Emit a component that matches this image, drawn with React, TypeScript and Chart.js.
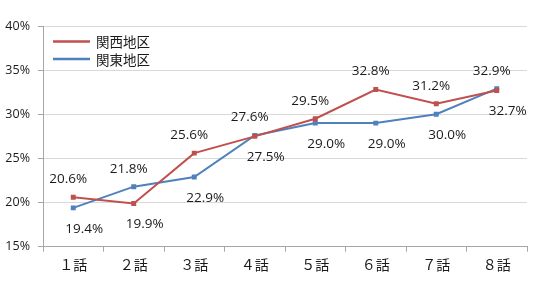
import React, { useEffect, useRef } from "react";
import { Chart, registerables } from "chart.js";

Chart.register(...registerables);

const categories = ["１話", "２話", "３話", "４話", "５話", "６話", "７話", "８話"];
const kansaiLabel = "関西地区";
const kantoLabel = "関東地区";
const kansai = [20.6, 19.9, 25.6, 27.5, 29.5, 32.8, 31.2, 32.7];
const kanto = [19.4, 21.8, 22.9, 27.6, 29.0, 29.0, 30.0, 32.9];
const yMin = 15;
const yMax = 40;
const yStep = 5;

const FONT = "'Open Sans', 'Noto Sans CJK JP', sans-serif";
const CJK = "'Noto Sans CJK JP', sans-serif";
const RED = "#C0504D";
const BLUE = "#4F81BD";
const TEXT = "#1a1a1a";

const dataLabelPlugin = {
  id: "dataLabels",
  afterDatasetsDraw(chart: any) {
    const ctx = chart.ctx;
    const sets = chart.data.datasets;
    ctx.save();
    ctx.font = `13.5px ${FONT}`;
    ctx.fillStyle = TEXT;
    ctx.textAlign = "center";
    ctx.textBaseline = "middle";
    sets.forEach((ds: any, i: number) => {
      const other = sets[1 - i];
      const meta = chart.getDatasetMeta(i);
      meta.data.forEach((pt: any, j: number) => {
        const v = ds.data[j];
        const above = v >= other.data[j];
        const dx = above ? -5 : 11;
        const dy = above ? -18 : 21;
        ctx.fillText(v.toFixed(1) + "%", pt.x + dx, pt.y + dy);
      });
    });
    ctx.restore();
  },
};

const legendPlugin = {
  id: "insideLegend",
  afterDraw(chart: any) {
    const ctx = chart.ctx;
    const area = chart.chartArea;
    ctx.save();
    ctx.font = `13.5px ${CJK}`;
    ctx.textAlign = "left";
    ctx.textBaseline = "middle";
    chart.data.datasets.forEach((ds: any, i: number) => {
      const y = area.top + 15.5 + i * 17.5;
      const x = area.left + 10;
      ctx.strokeStyle = ds.borderColor;
      ctx.lineWidth = 2.5;
      ctx.beginPath();
      ctx.moveTo(x, y);
      ctx.lineTo(x + 37, y);
      ctx.stroke();
      ctx.fillStyle = TEXT;
      ctx.fillText(ds.label, x + 43, y + 0.5);
    });
    ctx.restore();
  },
};

export default function App() {
  const ref = useRef<HTMLCanvasElement | null>(null);

  useEffect(() => {
    document.body.style.margin = "0";
    const canvas = ref.current;
    if (!canvas) return;
    const chart = new Chart(canvas, {
      type: "line",
      data: {
        labels: categories,
        datasets: [
          {
            label: kansaiLabel,
            data: kansai,
            borderColor: RED,
            backgroundColor: RED,
            borderWidth: 2,
            pointStyle: "rect",
            pointRadius: 3.5,
            pointBorderWidth: 0,
            pointBackgroundColor: RED,
            tension: 0,
          },
          {
            label: kantoLabel,
            data: kanto,
            borderColor: BLUE,
            backgroundColor: BLUE,
            borderWidth: 2,
            pointStyle: "rect",
            pointRadius: 3.5,
            pointBorderWidth: 0,
            pointBackgroundColor: BLUE,
            tension: 0,
          },
        ],
      },
      options: {
        animation: false,
        responsive: false,
        maintainAspectRatio: false,
        layout: { padding: { top: 26, right: 13, left: 0, bottom: 0 } },
        plugins: {
          legend: { display: false },
          tooltip: { enabled: false },
        },
        scales: {
          x: {
            offset: true,
            grid: {
              offset: true,
              drawOnChartArea: false,
              drawTicks: true,
              tickLength: 5,
              color: "#A6A6A6",
            },
            border: { color: "#A6A6A6" },
            ticks: {
              color: TEXT,
              font: { family: CJK, size: 14 },
              padding: 5,
            },
            afterFit(scale: any) {
              scale.height = 53.3;
            },
          },
          y: {
            min: yMin,
            max: yMax,
            grid: {
              color: "#D9D9D9",
              tickColor: "#A6A6A6",
              tickLength: 5,
            },
            border: { color: "#A6A6A6" },
            ticks: {
              stepSize: yStep,
              color: TEXT,
              font: { family: FONT, size: 12.5 },
              padding: 8,
              callback: (v: any) => v + "%",
            },
            afterFit(scale: any) {
              scale.width = 43;
            },
          },
        },
      },
      plugins: [dataLabelPlugin, legendPlugin],
    });
    return () => chart.destroy();
  }, []);

  return (
    <div style={{ width: 540, height: 300, background: "#fff" }}>
      <canvas ref={ref} width={540} height={300} />
    </div>
  );
}
